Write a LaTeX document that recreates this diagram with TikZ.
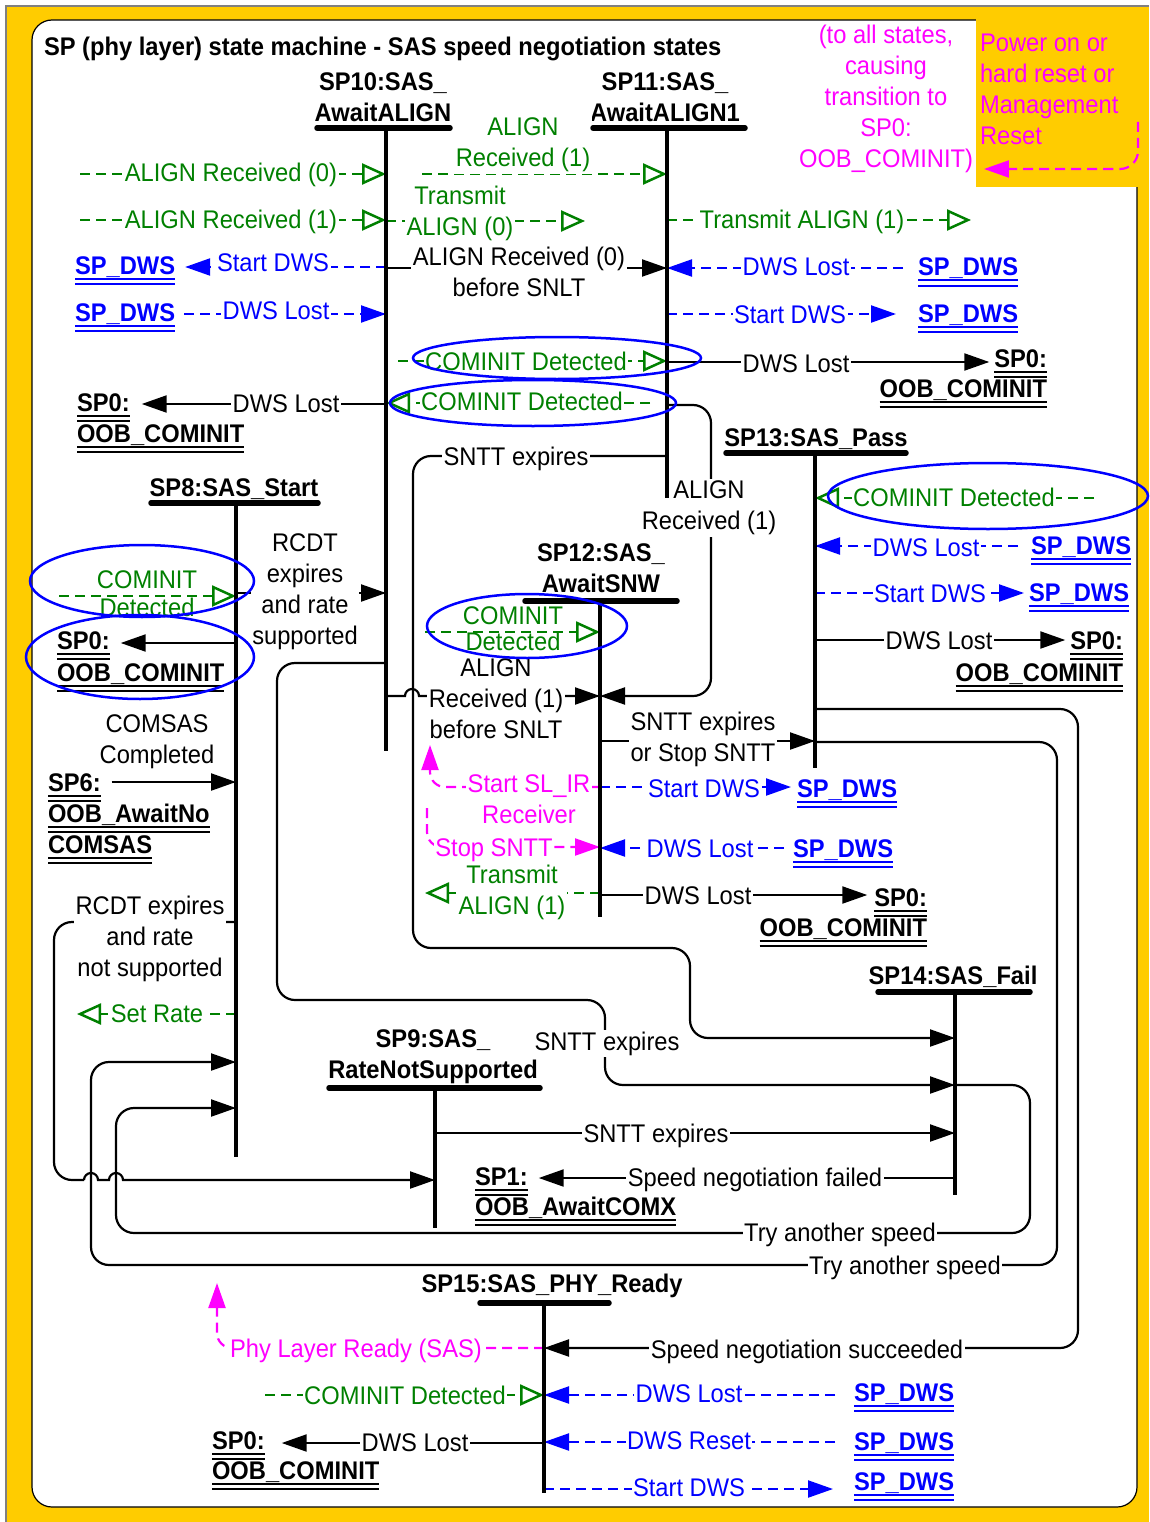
\documentclass[tikz,border=0pt]{standalone}
\usepackage{fontspec}
\setmainfont{Liberation Sans}[FakeStretch=0.93]
\usetikzlibrary{arrows.meta,shapes.geometric,calc}
\definecolor{gr}{RGB}{0,128,0}
\definecolor{ye}{RGB}{255,204,0}
\definecolor{mg}{RGB}{255,0,255}
\definecolor{bl}{RGB}{0,0,255}
\newcommand{\dul}[1]{\vtop{\hbox{\raisebox{0pt}[\height][0pt]{#1}}\kern3.5pt\hrule height 2pt\kern3.5pt\hrule height 2pt}}
\begin{document}
\begin{tikzpicture}[x=1pt,y=-1pt,
  every node/.style={font=\fontsize{25.5}{31}\selectfont, inner sep=1pt, outer sep=0pt},
  cl/.style={anchor=base, yshift=-9pt},
  clw/.style={anchor=base west, yshift=-9pt},
  cle/.style={anchor=base east, yshift=-9pt},
  lab/.style={cl, fill=white, inner sep=1.5pt},
  mlab/.style={fill=white, inner sep=1.5pt, align=center},
  hd/.style={font=\fontsize{25.5}{31}\selectfont\bfseries, align=center},
  dws/.style={text=bl, font=\fontsize{25.5}{31}\selectfont\bfseries},
  spz/.style={font=\fontsize{25.5}{31}\selectfont\bfseries},
  sbar/.style={line width=5.5pt, line cap=round},
  vl/.style={line width=4.5pt},
  cn/.style={line width=2.2pt},
  ar/.style={-{Triangle[length=25pt,width=17pt]}},
  oar/.style={-{Triangle[open,length=24pt,width=21pt,line width=2.5pt]}},
  dsh/.style={dash pattern=on 10pt off 6pt},
  grl/.style={draw=gr, cn, dsh},
  bll/.style={draw=bl, cn, dsh},
  mgl/.style={draw=mg, cn, dsh},
  bkl/.style={draw=black, cn},
  ell/.style={ellipse, draw=bl, line width=2.5pt, inner sep=0pt},
]
\useasboundingbox (0,0) rectangle (1149,1522);
% frame
\fill[white] (0,0) rectangle (1149,1522);
\fill[ye] (6,6) rectangle (1149,1522);
\draw[gray, line width=1.5pt] (6,1522) -- (6,6) -- (1149,6);
\draw[fill=white, line width=1.2pt, rounded corners=20pt] (32,20) rectangle (1137,1507);
\fill[ye] (976,12) rectangle (1149,187);

% title and notes
\node[hd, anchor=base west, yshift=-9pt] (title) at (43,47) {SP (phy layer) state machine - SAS speed negotiation states};
\node[text=mg, align=center] (note) at (886,99) {(to all states,\\causing\\transition to\\SP0:\\OOB\_COMINIT)};
\node[text=mg, align=left, anchor=west] (pwr) at (979,89) {Power on or\\hard reset or\\Management\\Reset};

% state titles
\node[hd] (t10) at (383,97) {SP10:SAS\_\\AwaitALIGN};
\node[hd] (t11) at (665,97) {SP11:SAS\_\\AwaitALIGN1};
\node[hd, cl] (t13) at (816,437) {SP13:SAS\_Pass};
\node[hd, cl] (t8) at (234,487) {SP8:SAS\_Start};
\node[hd] (t12) at (601,568) {SP12:SAS\_\\AwaitSNW};
\node[hd, cl] (t14) at (953,975) {SP14:SAS\_Fail};
\node[hd] (t9) at (433,1057) {SP9:SAS\_\\RateNotSupported};
\node[hd, cl] (t15) at (552,1283) {SP15:SAS\_PHY\_Ready};

% state lines
\coordinate (s10) at (386,128); \coordinate (s10e) at (386,751);
\coordinate (s11) at (667,128); \coordinate (s11e) at (667,498);
\coordinate (s13) at (815,453); \coordinate (s13e) at (815,768);
\coordinate (s8) at (236,503);  \coordinate (s8e) at (236,1157);
\coordinate (s12) at (600,601); \coordinate (s12e) at (600,917);
\coordinate (s14) at (955,992); \coordinate (s14e) at (955,1195);
\coordinate (s9) at (435,1088); \coordinate (s9e) at (435,1228);
\coordinate (s15) at (544,1303); \coordinate (s15e) at (544,1493);

% end point labels
\node[dws, clw] (d1) at (74,265) {\dul{SP\_DWS}};
\node[dws, clw] (d2) at (74,312) {\dul{SP\_DWS}};
\node[dws, clw] (d3) at (917,267) {\dul{SP\_DWS}};
\node[dws, clw] (d4) at (917,313) {\dul{SP\_DWS}};
\node[dws, clw] (d5) at (1030,545) {\dul{SP\_DWS}};
\node[dws, clw] (d6) at (1028,592) {\dul{SP\_DWS}};
\node[dws, clw] (d7) at (796,788) {\dul{SP\_DWS}};
\node[dws, clw] (d8) at (792,848) {\dul{SP\_DWS}};
\node[dws, clw] (d9) at (853,1392) {\dul{SP\_DWS}};
\node[dws, clw] (d10) at (853,1441) {\dul{SP\_DWS}};
\node[dws, clw] (d11) at (853,1481) {\dul{SP\_DWS}};

\node[spz, clw] (z1a) at (76,402) {\dul{SP0:}};
\node[spz, clw] (z1b) at (76,433) {\dul{OOB\_COMINIT}};
\node[spz, cle] (z2a) at (1048,358) {\dul{SP0:}};
\node[spz, cle] (z2b) at (1048,388) {\dul{OOB\_COMINIT}};
\node[spz, clw] (z3a) at (56,640) {\dul{SP0:}};
\node[spz, clw] (z3b) at (56,672) {\dul{OOB\_COMINIT}};
\node[spz, cle] (z4a) at (1124,640) {\dul{SP0:}};
\node[spz, cle] (z4b) at (1124,672) {\dul{OOB\_COMINIT}};
\node[spz, cle] (z5a) at (928,897) {\dul{SP0:}};
\node[spz, cle] (z5b) at (928,927) {\dul{OOB\_COMINIT}};
\node[spz, clw] (z6a) at (211,1440) {\dul{SP0:}};
\node[spz, clw] (z6b) at (211,1470) {\dul{OOB\_COMINIT}};
\node[spz, clw] (sp6a) at (47,782) {\dul{SP6:}};
\node[spz, clw] (sp6b) at (47,813) {\dul{OOB\_AwaitNo}};
\node[spz, clw] (sp6c) at (47,844) {\dul{COMSAS}};
\node[spz, clw] (sp1a) at (474,1176) {\dul{SP1:}};
\node[spz, clw] (sp1b) at (474,1206) {\dul{OOB\_AwaitCOMX}};

% ---------- connectors ----------
% SP10
\draw[grl, oar] (80,174) coordinate (f1) -- (s10 |- f1);
\draw[grl, oar] (80,220) coordinate (f2) -- (s10 |- f2);
\draw[bll, ar] (s10 |- 0,267) -- ($(d1.east |- 0,267)+(9,0)$);
\draw[bll, ar] ($(d2.east |- 0,314)+(8,0)$) -- (s10 |- 0,314);
\draw[bkl, ar] (s10 |- 0,404) -- ($(z1a.east |- 0,404)+(11,0)$);
\draw[grl, oar] (650,403) coordinate (f3) -- (s10 |- f3);
\draw[bkl, ar] (s10 |- 0,268) -- (s11 |- 0,268);
\draw[grl, oar] (s10 |- 0,221) -- (585,221) coordinate (f4);
\draw[bkl, ar] (s10 |- 0,696) -- (405,696) arc[start angle=180, end angle=360, radius=7] -- (s12 |- 0,696);
\draw[bkl, ar] (s8 |- 0,593) -- (s10 |- 0,593);
\draw[bkl, ar, rounded corners=18pt] (s10 |- 0,663) -- (277,663) -- (277,1000) -- (605,1000) -- (605,1085) -- (s14 |- 0,1085);
\draw[bkl, ar, rounded corners=18pt] (s11 |- 0,456) -- (413,456) -- (413,948) -- (690,948) -- (690,1038) -- (s14 |- 0,1038);
\draw[grl, oar] (398,361) coordinate (f5) -- (s11 |- f5);
% SP11
\draw[grl, oar] (422,174) coordinate (f6) -- (s11 |- f6);
\draw[grl, oar] (s11 |- 0,220) -- (971,220) coordinate (f7);
\draw[bll, ar] ($(d3.west |- 0,268)+(-14,0)$) -- (s11 |- 0,268);
\draw[bll, ar] (s11 |- 0,314) -- ($(d4.west |- 0,314)+(-21,0)$);
\draw[bkl, ar] (s11 |- 0,362) -- ($(z2a.west |- 0,362)+(-4,0)$);
\draw[bkl, ar, rounded corners=18pt] (s11 |- 0,405) -- (711,405) -- (711,696) -- (s12 |- 0,696);
% SP13
\draw[grl, oar] (1094,498) coordinate (f8) -- (s13 |- f8);
\draw[bll, ar] ($(d5.west |- 0,546)+(-12,0)$) -- (s13 |- 0,546);
\draw[bll, ar] (s13 |- 0,593) -- ($(d6.west |- 0,593)+(-4,0)$);
\draw[bkl, ar] (s13 |- 0,640) -- ($(z4a.west |- 0,640)+(-4,0)$);
\draw[bkl, ar, rounded corners=18pt] (s13 |- 0,709) -- (1078,709) -- (1078,1348) -- (s15 |- 0,1348);
\draw[bkl, ar, rounded corners=18pt] (s13 |- 0,742) -- (1057,742) -- (1057,1265) -- (91,1265) -- (91,1062) -- (s8 |- 0,1062);
% SP12
\draw[bkl, ar] (s12 |- 0,741) -- (s13 |- 0,741);
\draw[grl, oar] (425,632) coordinate (f9) -- (s12 |- f9);
\draw[mgl, ar, rounded corners=15pt] (s12 |- 0,787) -- (430,787) -- (430,745) coordinate (f10);
\draw[bll, ar] (s12 |- 0,787) -- ($(d7.west |- 0,787)+(-5,0)$);
\draw[mgl, ar, rounded corners=15pt] (427,808) coordinate (f11) -- (427,847) -- (s12 |- 0,847);
\draw[bll, ar] ($(d8.west |- 0,848)+(-8,0)$) -- (s12 |- 0,848);
\draw[grl, oar] (s12 |- 0,893) -- (425,893) coordinate (f12);
\draw[bkl, ar] (s12 |- 0,895) -- ($(z5a.west |- 0,895)+(-6,0)$);
% SP8
\draw[grl, oar] (59,596) coordinate (f13) -- (s8 |- f13);
\draw[bkl, ar] (s8 |- 0,643) -- ($(z3a.east |- 0,643)+(10,0)$);
\draw[bkl, ar] ($(sp6a.east |- 0,782)+(10,0)$) -- (s8 |- 0,782);
\draw[bkl, rounded corners=18pt] (s8 |- 0,922) -- (54,922) -- (54,1180) -- (84,1180) coordinate (h1);
\draw[bkl, ar] (h1) arc[start angle=180,end angle=360,radius=7] -- (109,1180) arc[start angle=180,end angle=360,radius=7] -- (s9 |- 0,1180);
\draw[grl, oar] (s8 |- 0,1014) -- (77,1014) coordinate (f14);
% SP9
\draw[bkl, ar] (s9 |- 0,1133) -- (s14 |- 0,1133);
% SP14
\draw[bkl, ar] (s14 |- 0,1178) -- ($(sp1a.east |- 0,1178)+(10,0)$);
\draw[bkl, ar, rounded corners=18pt] (s14 |- 0,1085) -- (1030,1085) -- (1030,1233) -- (116,1233) -- (116,1108) -- (s8 |- 0,1108);
% SP15
\draw[mgl, ar, rounded corners=15pt] (s15 |- 0,1348) -- (217,1348) -- (217,1283) coordinate (f15);
\draw[grl, oar] (265,1395) coordinate (f16) -- (s15 |- f16);
\draw[bll, ar] ($(d9.west |- 0,1395)+(-18,0)$) -- (s15 |- 0,1395);
\draw[bkl, ar] (s15 |- 0,1443) -- ($(z6a.east |- 0,1443)+(16,0)$);
\draw[bll, ar] ($(d10.west |- 0,1442)+(-18,0)$) -- (s15 |- 0,1442);
\draw[bll, ar] (s15 |- 0,1489) -- ($(d11.west |- 0,1489)+(-20,0)$);
% power-on
\draw[mgl, ar, rounded corners=18pt] (1138,122) coordinate (f17) -- (1138,169) -- ($(note.east |- 0,169)+(10,0)$);

% ---------- labels ----------
\node[lab, text=gr] (l1) at (231,173) {ALIGN Received (0)};
\node[lab, text=gr] (l2) at (231,220) {ALIGN Received (1)};
\node[lab, text=bl] (l3) at (273,263) {Start DWS};
\node[lab, text=bl] (l4) at (276,310) {DWS Lost};
\node[lab] (l5) at (286,403) {DWS Lost};
\node[lab, text=gr] (l6) at (522,401) {COMINIT Detected};
\node[mlab] (l7) at (519,272) {ALIGN Received (0)\\before SNLT};
\node[mlab, text=gr] (l8) at (460,213) {Transmit\\ALIGN (0)};
\node[mlab] (l9) at (496,699) {ALIGN\\Received (1)\\before SNLT};
\node[mlab] (l10) at (305,592) {RCDT\\expires\\and rate\\supported};
\node[lab] (l11) at (607,1041) {SNTT expires};
\node[lab] (l12) at (516,456) {SNTT expires};
\node[lab, text=gr] (l13) at (526,361) {COMINIT Detected};
\node[mlab, text=gr] (l14) at (523,145) {ALIGN\\Received (1)};
\node[lab, text=gr] (l15) at (802,220) {Transmit ALIGN (1)};
\node[lab, text=bl] (l16) at (796,266) {DWS Lost};
\node[lab, text=bl] (l17) at (790,314) {Start DWS};
\node[lab] (l18) at (796,363) {DWS Lost};
\node[mlab] (l19) at (709,508) {ALIGN\\Received (1)};
\node[lab, text=gr] (l20) at (954,497) {COMINIT Detected};
\node[lab, text=bl] (l21) at (926,547) {DWS Lost};
\node[lab, text=bl] (l22) at (930,593) {Start DWS};
\node[lab] (l23) at (939,640) {DWS Lost};
\node[lab] (l24) at (807,1349) {Speed negotiation succeeded};
\node[lab] (l25) at (905,1265) {Try another speed};
\node[mlab] (l26) at (703,739) {SNTT expires\\or Stop SNTT};
\node[align=center, text=gr] (l27) at (513,629) {COMINIT\\[-5pt]Detected};
\node[mlab, text=mg] (l28) at (529,799) {Start SL\_IR\\Receiver};
\node[lab, text=bl] (l29) at (704,788) {Start DWS};
\node[lab, text=mg] (l30) at (494,847) {Stop SNTT};
\node[lab, text=bl] (l31) at (700,848) {DWS Lost};
\node[mlab, text=gr] (l32) at (512,892) {Transmit\\ALIGN (1)};
\node[lab] (l33) at (698,895) {DWS Lost};
\node[align=center, text=gr] (l34) at (147,594) {COMINIT\\[-3pt]Detected};
\node[align=center] (l35) at (157,742) {COMSAS\\Completed};
\node[mlab] (l36) at (150,939) {RCDT expires\\and rate\\not supported};
\node[lab, text=gr] (l37) at (157,1013) {Set Rate};
\node[lab] (l38) at (656,1133) {SNTT expires};
\node[lab] (l39) at (755,1177) {Speed negotiation failed};
\node[lab] (l40) at (840,1232) {Try another speed};
\node[lab, text=mg] (l41) at (356,1348) {Phy Layer Ready (SAS)};
\node[lab, text=gr] (l42) at (405,1395) {COMINIT Detected};
\node[lab, text=bl] (l43) at (689,1393) {DWS Lost};
\node[lab] (l44) at (415,1442) {DWS Lost};
\node[lab, text=bl] (l45) at (689,1440) {DWS Reset};
\node[lab, text=bl] (l46) at (689,1487) {Start DWS};

% ---------- state bars and lines ----------
\draw[sbar] (317,128) -- (450,128);
\draw[sbar] (593,128) -- (745,128);
\draw[sbar] (726,453) -- (906,453);
\draw[sbar] (151,503) -- (318,503);
\draw[sbar] (525,601) -- (677,601);
\draw[sbar] (878,992) -- (1030,992);
\draw[sbar] (329,1088) -- (540,1088);
\draw[sbar] (480,1303) -- (609,1303);
\draw[vl] (s10) -- (s10e);
\draw[vl] (s11) -- (s11e);
\draw[vl] (s13) -- (s13e);
\draw[vl] (s8) -- (s8e);
\draw[vl] (s12) -- (s12e);
\draw[vl] (s14) -- (s14e);
\draw[vl] (s9) -- (s9e);
\draw[vl] (s15) -- (s15e);

% ---------- ellipses ----------
\node[ell, minimum width=288pt, minimum height=42pt] (e1) at (557,358) {};
\node[ell, minimum width=286pt, minimum height=46pt] (e2) at (533,403) {};
\node[ell, minimum width=320pt, minimum height=66pt] (e3) at (988,496) {};
\node[ell, minimum width=224pt, minimum height=72pt] (e4) at (142,581) {};
\node[ell, minimum width=228pt, minimum height=84pt] (e5) at (140,657) {};
\node[ell, minimum width=200pt, minimum height=64pt] (e6) at (527,626) {};
\end{tikzpicture}
\end{document}
